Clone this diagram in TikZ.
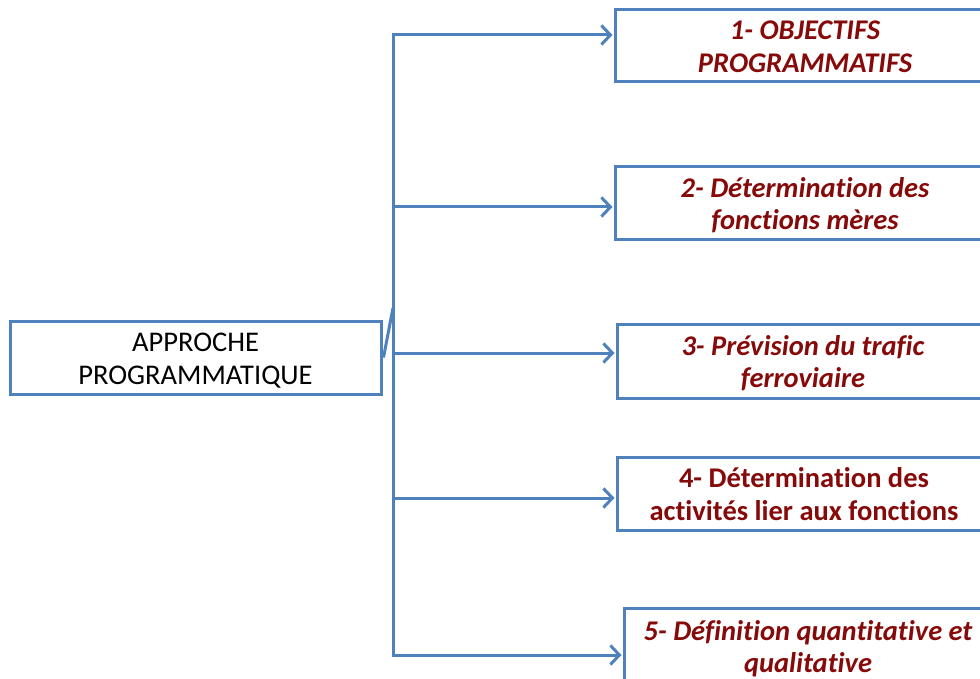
\documentclass[tikz,border=0pt]{standalone}
\usepackage{fontspec}
\setmainfont{Carlito}[Ligatures=NoCommon]
\usetikzlibrary{arrows.meta,calc}
\definecolor{linkblue}{RGB}{79,129,189}
\definecolor{titlered}{RGB}{135,10,10}
\begin{document}
\begin{tikzpicture}[x=1pt,y=-1pt,
  box/.style={draw=linkblue,line width=3pt,rectangle,align=center,inner sep=0pt,
    text height=53pt,text depth=0pt,font=\fontsize{28.5}{32.5}\selectfont},
  stepbox/.style={box,text=titlered,font=\fontsize{28.5}{32.5}\selectfont\bfseries\itshape},
  uprightbox/.style={box,text=titlered,font=\fontsize{28.5}{32.5}\selectfont\bfseries},
  link/.style={draw=linkblue,line width=3pt},
  arrowlink/.style={link,-{Straight Barb[length=9pt,width=19pt,line width=3pt]},shorten >=1pt}]
\useasboundingbox (0,0) rectangle (980,679);
\clip (0,0) rectangle (980,679);
\fill[white] (0,0) rectangle (980,679);

% root and the five steps
\node[box,minimum width=371pt,minimum height=73pt] (root) at (195.5,357.5)
  {APPROCHE\\PROGRAMMATIQUE};
\node[stepbox,minimum width=380pt,minimum height=72pt] (b1) at (805,46)
  {1- OBJECTIFS\\PROGRAMMATIFS};
\node[stepbox,minimum width=380pt,minimum height=73pt] (b2) at (805,203.5)
  {2- Détermination des\\fonctions mères};
\node[stepbox,minimum width=372pt,minimum height=74pt] (b3) at (803,361)
  {3- Prévision du trafic\\ferroviaire};
\node[uprightbox,minimum width=374pt,minimum height=73pt] (b4) at (804,493.5)
  {4- Détermination des\\activités lier aux fonctions};
\node[stepbox,minimum width=368pt,minimum height=76pt] (b5) at (808,646)
  {5- Définition quantitative et\\qualitative};

% branching connector
\coordinate (j) at (393,308);
\draw[link] ($(root.east)+(1,0)$) -- (j);
\draw[arrowlink] (j) |- ($(b1.west)+(0,-11)$);
\draw[arrowlink] (j) |- ($(b2.west)+(0,3.5)$);
\draw[arrowlink] (j) |- ($(b3.west)+(0,-8)$);
\draw[arrowlink] (j) |- ($(b4.west)+(0,4.5)$);
\draw[arrowlink] (j) |- ($(b5.west)+(0,9)$);
\end{tikzpicture}
\end{document}
